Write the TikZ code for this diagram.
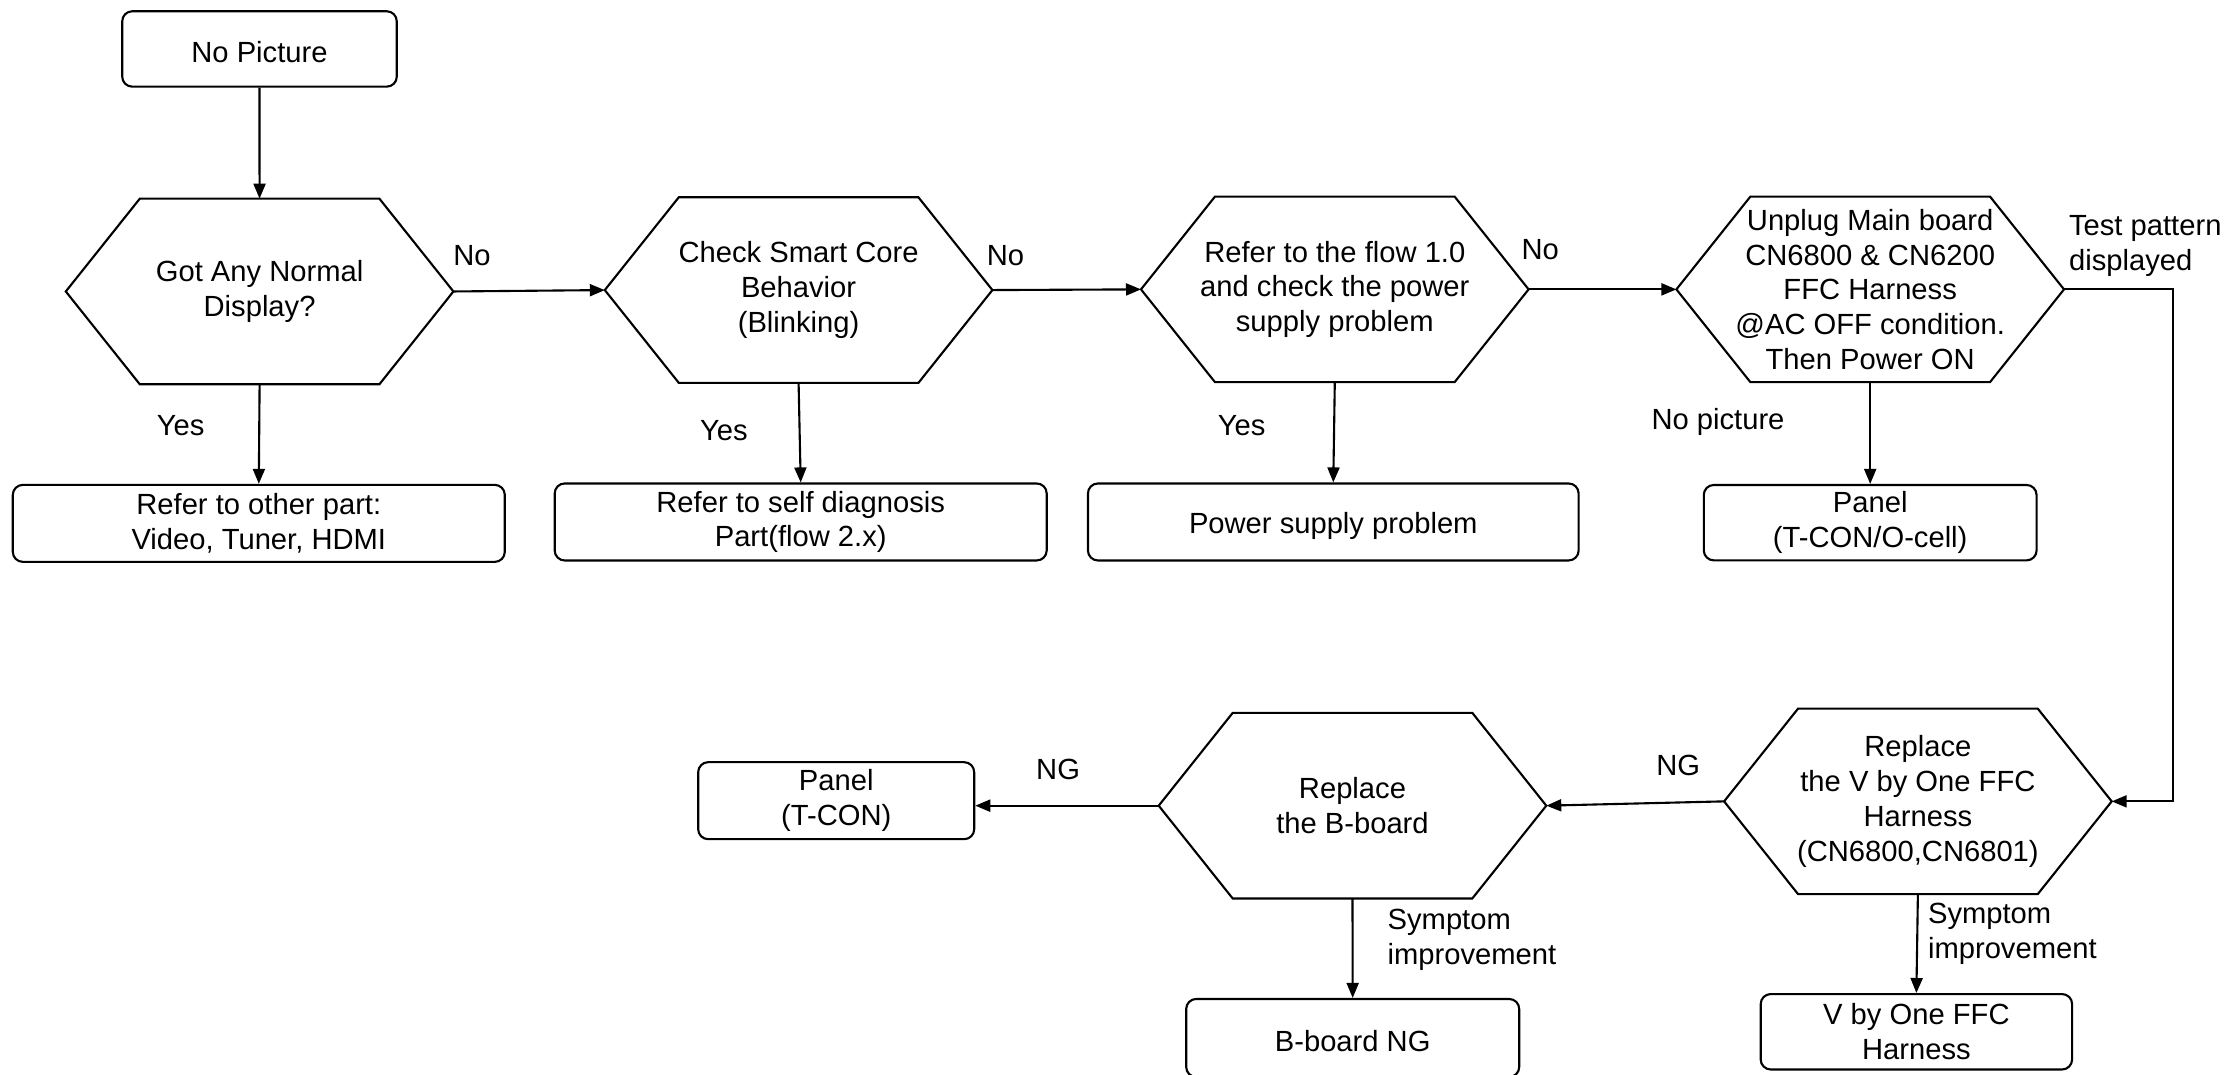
\documentclass[tikz,border=0pt]{standalone}
\usepackage{fontspec}
\setmainfont{Liberation Sans}
\usetikzlibrary{arrows.meta, positioning, calc}

\begin{document}
\begin{tikzpicture}[
  line width=0.6pt,
  font=\fontsize{8.3}{9.9}\selectfont,
  box/.style={draw, rounded corners=0.1cm, align=center, minimum height=0.77cm, inner sep=0pt,
    execute at begin node={\rule{0pt}{8pt}}},
  hexa/.style={align=center, minimum width=3.855cm, minimum height=1.835cm, inner sep=0pt,
    execute at begin node={\rule{0pt}{8pt}}},
  arr/.style={-{Triangle[length=0.15cm, width=0.12cm]}},
  lbl/.style={inner sep=0pt, align=left}
]
  \useasboundingbox (0,0) rectangle (22.30,10.75);

  % top row: the checks
  \node[box, minimum width=2.745cm, minimum height=0.754cm] (start) at (2.595,10.26) {No Picture};
  \node[hexa] (got) at (2.596,7.835) {Got Any Normal\\Display?};
  \node[hexa] (core) at (7.986,7.849) {Check Smart Core\\Behavior\\(Blinking)};
  \node[hexa] (flow) at (13.348,7.856) {Refer to the flow 1.0\\and check the power\\supply problem};
  \node[hexa] (unplug) at (18.702,7.856) {Unplug Main board\\CN6800 \& CN6200\\FFC Harness\\@AC OFF condition.\\Then Power ON};

  \node[box, minimum width=4.92cm] (other) at (2.588,5.516) {Refer to other part:\\Video, Tuner, HDMI};
  \node[box, minimum width=4.92cm] (self) at (8.007,5.53) {Refer to self diagnosis\\Part(flow 2.x)};
  \node[box, minimum width=4.907cm] (psu) at (13.333,5.53) {Power supply problem};
  \node[box, minimum width=3.328cm, minimum height=0.754cm] (panel) at (18.702,5.523) {Panel\\(T-CON/O-cell)};

  % bottom row: the replacements
  \node[hexa] (vbyone) at (19.179,2.736) {Replace\\the V by One FFC\\Harness\\(CN6800,CN6801)};
  \node[hexa] (bboard) at (13.525,2.693) {Replace\\the B-board};
  \node[box, minimum width=2.76cm] (tcon) at (8.362,2.743) {Panel\\(T-CON)};
  \node[box, minimum width=3.33cm, minimum height=0.78cm] (bng) at (13.527,0.37) {B-board NG};
  \node[box, minimum width=3.114cm, minimum height=0.754cm] (ffc) at (19.164,0.432) {V by One FFC\\Harness};

  \foreach \h in {got,core,flow,unplug,bboard,vbyone}
    \draw (\h.west) -- ([xshift=0.74cm]\h.north west) -- ([xshift=-0.74cm]\h.north east)
      -- (\h.east) -- ([xshift=-0.74cm]\h.south east) -- ([xshift=0.74cm]\h.south west) -- cycle;

  % connectors
  \coordinate (side) at (21.73,0);
  \draw[arr] (start) -- (got);
  \draw[arr] (got.east) -- (core.west);
  \draw[arr] (core.east) -- (flow.west);
  \draw[arr] (flow.east) -- (unplug.west);
  \draw[arr] (got.south) -- (other.north);
  \draw[arr] (core.south) -- (self.north);
  \draw[arr] (flow.south) -- (psu.north);
  \draw[arr] (unplug.south) -- (panel.north);
  \draw[arr] (unplug.east) -| (side |- vbyone.east) -- (vbyone.east);
  \draw[arr] (vbyone.west) -- (bboard.east);
  \draw[arr] (bboard.west) -- (bboard.west -| tcon.east);
  \draw[arr] (bboard.south) -- (bng.north);
  \draw[arr] (vbyone.south) -- (ffc.north);

  % labels
  \node[lbl] (no1) at (4.72,8.19) {No};
  \node[lbl] (no2) at (10.055,8.19) {No};
  \node[lbl] (no3) at (15.402,8.25) {No};
  \node[lbl] (yes1) at (1.806,6.49) {Yes};
  \node[lbl] (yes2) at (7.239,6.445) {Yes};
  \node[lbl] (yes3) at (12.416,6.49) {Yes};
  \node[lbl] (nopic) at (17.18,6.53) {No picture};
  \node[lbl, anchor=west] (testpat) at (20.68,8.29) {Test pattern\\displayed};
  \node[lbl] (ng1) at (16.782,3.1) {NG};
  \node[lbl] (ng2) at (10.581,3.06) {NG};
  \node[lbl, anchor=west] (symp1) at (13.866,1.35) {Symptom\\improvement};
  \node[lbl, anchor=west] (symp2) at (19.27,1.41) {Symptom\\improvement};
\end{tikzpicture}
\end{document}
